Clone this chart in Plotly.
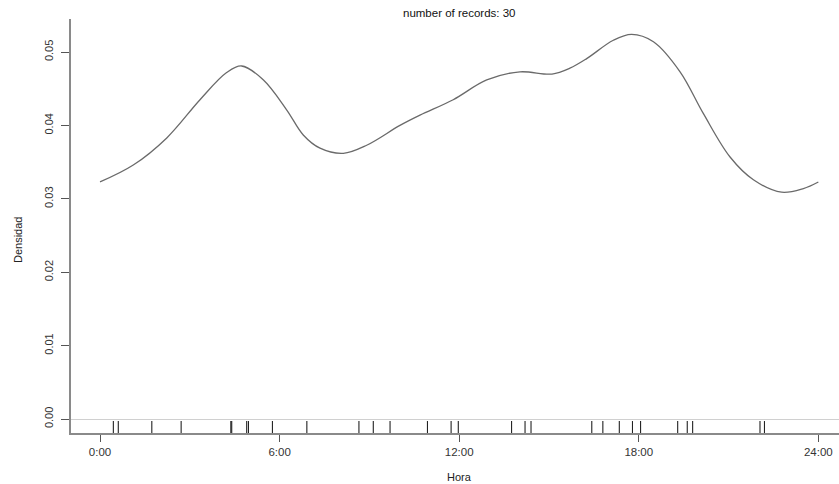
import plotly.graph_objects as go

# Density curve (hours, density)
hours = [0.0, 1.11, 2.23, 3.34, 4.23, 4.73, 5.46, 6.24, 6.79, 7.35, 8.13,
         8.91, 10.02, 10.69, 11.8, 12.92, 14.03, 15.1, 15.7, 16.26, 17.15,
         17.76, 18.49, 19.38, 20.16, 21.05, 21.83, 22.77, 23.5, 24.0]
density = [0.0323, 0.0346, 0.0383, 0.0435, 0.0472, 0.0481, 0.0462, 0.0421,
           0.0387, 0.0369, 0.0362, 0.0373, 0.0400, 0.0414, 0.0435, 0.0462,
           0.0473, 0.0470, 0.0478, 0.0491, 0.0516, 0.0524, 0.0514, 0.0473,
           0.0416, 0.0357, 0.0326, 0.0309, 0.0314, 0.0323]

# Rug: record times (hours)
records = [0.445, 0.61, 1.73, 2.71, 4.37, 4.40, 4.90, 4.96, 5.76, 6.91, 8.65,
           9.13, 9.69, 10.94, 11.73, 11.97, 13.75, 14.20, 14.40, 16.43, 16.80,
           17.35, 17.79, 18.06, 19.30, 19.62, 19.80, 22.05, 22.20]

x_ticks = [0, 6, 12, 18, 24]
x_labels = ["0:00", "6:00", "12:00", "18:00", "24:00"]
y_ticks = [0.00, 0.01, 0.02, 0.03, 0.04, 0.05]

title_text = "number of records: 30"
x_title = "Hora"
y_title = "Densidad"

Y_MIN, Y_MAX = -0.0019, 0.0545
X_MIN, X_MAX = -0.97, 24.69
RUG_TOP = -0.00027

fig = go.Figure()

fig.add_trace(go.Scatter(
    x=hours, y=density, mode="lines",
    line=dict(color="#6a6a6a", width=1.3, shape="spline", smoothing=1.0),
    hoverinfo="skip", showlegend=False))

rx, ry = [], []
for r in records:
    rx += [r, r, None]
    ry += [RUG_TOP, Y_MIN, None]
fig.add_trace(go.Scatter(
    x=rx, y=ry, mode="lines",
    line=dict(color="#222222", width=1.1),
    hoverinfo="skip", showlegend=False))

font_family = "Liberation Sans, Arial, sans-serif"

fig.update_layout(
    width=839, height=484,
    margin=dict(l=71, r=0, t=19, b=51),
    paper_bgcolor="white", plot_bgcolor="white",
    font=dict(family=font_family, size=11, color="#333333"),
    showlegend=False,
    xaxis=dict(
        range=[X_MIN, X_MAX], tickvals=x_ticks, ticktext=x_labels,
        showgrid=False, zeroline=False,
        showline=True, linecolor="#8a8a8a", linewidth=1.6,
        ticks="outside", ticklen=7, tickcolor="#555555", tickwidth=1,
        tickfont=dict(size=11.5, color="#333333"),
    ),
    yaxis=dict(
        range=[Y_MIN, Y_MAX], tickvals=y_ticks, tickformat=".2f",
        showgrid=False, zeroline=True, zerolinecolor="#d0d0d0", zerolinewidth=1,
        showline=True, linecolor="#8a8a8a", linewidth=1.6,
        ticks="outside", ticklen=8, tickcolor="#555555", tickwidth=1,
        tickangle=-90, ticklabelstandoff=4,
        tickfont=dict(size=11, color="#333333"),
    ),
    annotations=[
        dict(text=title_text, xref="x", yref="paper", x=12, y=(433 - 13) / 414,
             xanchor="center", yanchor="middle", showarrow=False,
             font=dict(size=11.5, color="#111111")),
        dict(text=x_title, xref="x", yref="paper", x=12, y=(433 - 477) / 414,
             xanchor="center", yanchor="middle", showarrow=False,
             font=dict(size=11, color="#222222")),
        dict(text=y_title, xref="paper", yref="paper", x=(18 - 71) / 768,
             y=(433 - 240) / 414, textangle=-90,
             xanchor="center", yanchor="middle", showarrow=False,
             font=dict(size=11, color="#222222")),
    ],
)

fig.write_html("out.html")
